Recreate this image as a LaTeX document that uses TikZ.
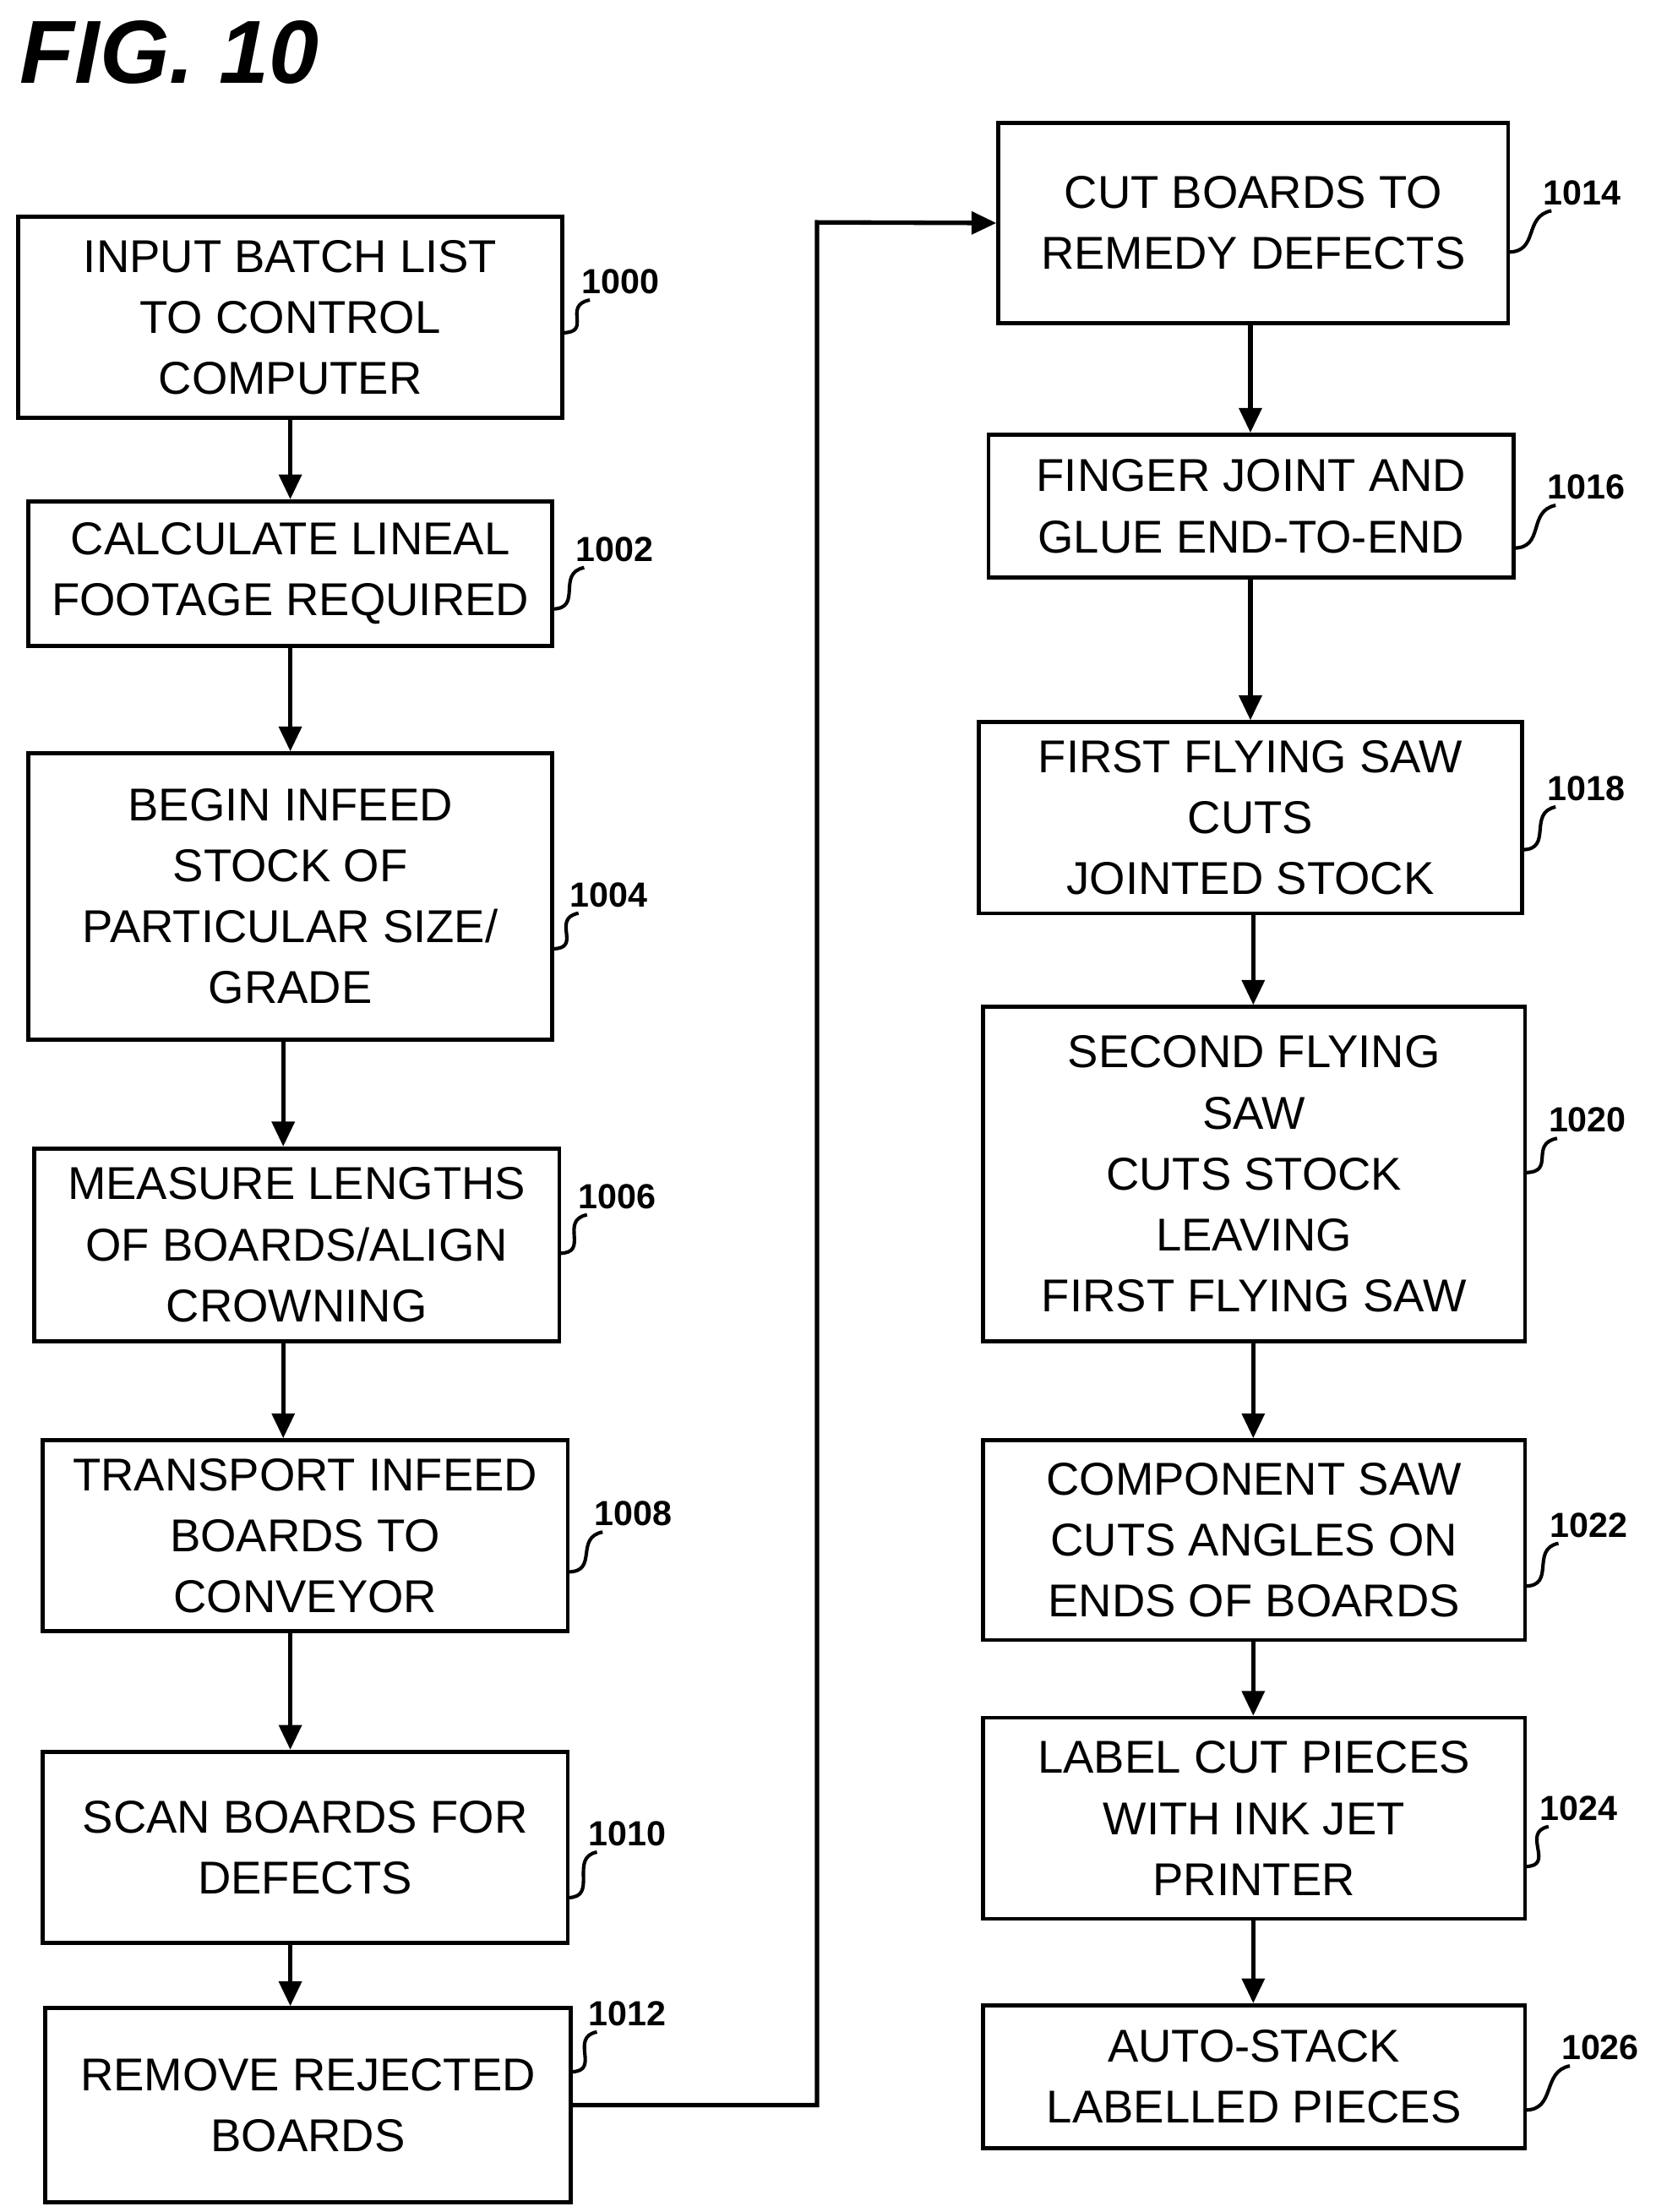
\documentclass[tikz,border=0pt]{standalone}
\usepackage{fontspec}
\setmainfont{Liberation Sans}
\usetikzlibrary{arrows.meta}
\tikzset{
  schritt/.style={draw, line width=1.6pt, align=center, inner sep=0pt,
    font=\fontsize{18.5}{24.5}\selectfont},
  nummer/.style={font=\bfseries\fontsize{14}{16}\selectfont, inner sep=1pt},
  pfeil/.style={line width=1.8pt, -{Triangle[length=10pt,width=9pt]}},
  leiter/.style={line width=1.4pt}
}
\begin{document}
\begin{tikzpicture}[x=0.02cm,y=-0.02cm]
\useasboundingbox (0,0) rectangle (1169,1562);

\node[font=\bfseries\itshape\fontsize{36}{40}\selectfont, anchor=west] (titel) at (8,37) {FIG. 10};

% linke Spalte
\node[schritt, minimum width=384*0.02cm, minimum height=142*0.02cm] (s1000) at (205,224) {INPUT BATCH LIST\\TO CONTROL\\COMPUTER};
\node[schritt, minimum width=370*0.02cm, minimum height=102*0.02cm] (s1002) at (205,405) {CALCULATE LINEAL\\FOOTAGE REQUIRED};
\node[schritt, minimum width=370*0.02cm, minimum height=202*0.02cm] (s1004) at (205,633) {BEGIN INFEED\\STOCK OF\\PARTICULAR SIZE/\\GRADE};
\node[schritt, minimum width=371*0.02cm, minimum height=136*0.02cm] (s1006) at (209.5,879) {MEASURE LENGTHS\\OF BOARDS/ALIGN\\CROWNING};
\node[schritt, minimum width=371*0.02cm, minimum height=135*0.02cm] (s1008) at (215.5,1084.5) {TRANSPORT INFEED\\BOARDS TO\\CONVEYOR};
\node[schritt, minimum width=371*0.02cm, minimum height=135*0.02cm] (s1010) at (215.5,1304.5) {SCAN BOARDS FOR\\DEFECTS};
\node[schritt, minimum width=371*0.02cm, minimum height=137*0.02cm] (s1012) at (217.5,1486.5) {REMOVE REJECTED\\BOARDS};

% rechte Spalte
\node[schritt, minimum width=360*0.02cm, minimum height=141*0.02cm] (s1014) at (885,157.5) {CUT BOARDS TO\\REMEDY DEFECTS};
\node[schritt, minimum width=371*0.02cm, minimum height=101*0.02cm] (s1016) at (883.5,357.5) {FINGER JOINT AND\\GLUE END-TO-END};
\node[schritt, minimum width=384*0.02cm, minimum height=135*0.02cm] (s1018) at (883,577.5) {FIRST FLYING SAW\\CUTS\\JOINTED STOCK};
\node[schritt, minimum width=383*0.02cm, minimum height=236*0.02cm] (s1020) at (885.5,829) {SECOND FLYING\\SAW\\CUTS STOCK\\LEAVING\\FIRST FLYING SAW};
\node[schritt, minimum width=383*0.02cm, minimum height=141*0.02cm] (s1022) at (885.5,1087.5) {COMPONENT SAW\\CUTS ANGLES ON\\ENDS OF BOARDS};
\node[schritt, minimum width=383*0.02cm, minimum height=142*0.02cm] (s1024) at (885.5,1284) {LABEL CUT PIECES\\WITH INK JET\\PRINTER};
\node[schritt, minimum width=383*0.02cm, minimum height=101*0.02cm] (s1026) at (885.5,1466.5) {AUTO-STACK\\LABELLED PIECES};

% Pfeile
\draw[pfeil] (s1000.south) -- (s1002.north);
\draw[pfeil] (s1002.south) -- (s1004.north);
\draw[pfeil] (s1004.south -| 200,0) -- (s1006.north -| 200,0);
\draw[pfeil] (s1006.south -| 200,0) -- (s1008.north -| 200,0);
\draw[pfeil] (s1008.south -| 205,0) -- (s1010.north -| 205,0);
\draw[pfeil] (s1010.south -| 205,0) -- (s1012.north -| 205,0);
\draw[pfeil] (s1012.east) -- (577,1486.5) -- (577,157) -- (s1014.west);
\draw[pfeil] (s1014.south -| 883,0) -- (s1016.north -| 883,0);
\draw[pfeil] (s1016.south -| 883,0) -- (s1018.north -| 883,0);
\draw[pfeil] (s1018.south -| 885,0) -- (s1020.north -| 885,0);
\draw[pfeil] (s1020.south -| 885,0) -- (s1022.north -| 885,0);
\draw[pfeil] (s1022.south -| 885,0) -- (s1024.north -| 885,0);
\draw[pfeil] (s1024.south -| 885,0) -- (s1026.north -| 885,0);

% Bezugszeichen
\foreach \name/\x/\y/\tx/\ty in {
  1000/397/235/438/199, 1002/390/430/434/388, 1004/390/670/430/632,
  1006/395/885/436/845, 1008/401/1110/447/1069, 1010/401/1340/443/1295,
  1012/403/1463/443/1422, 1014/1065/178/1117/136, 1016/1069/387/1120/344,
  1018/1075/600/1120/557, 1020/1077/828/1121/791, 1022/1077/1120/1122/1077,
  1024/1077/1318/1115/1277, 1026/1077/1490/1130/1446}
{
  \node[nummer] (n\name) at (\tx,\ty) {\name};
  \coordinate (f\name) at (\x,\y);
  \draw[leiter] (f\name) .. controls ([xshift=22*0.02cm]f\name) and ([xshift=-12*0.02cm,yshift=-6*0.02cm]n\name.south west) .. ([xshift=8*0.02cm,yshift=-2*0.02cm]n\name.south west);
}
\end{tikzpicture}
\end{document}
